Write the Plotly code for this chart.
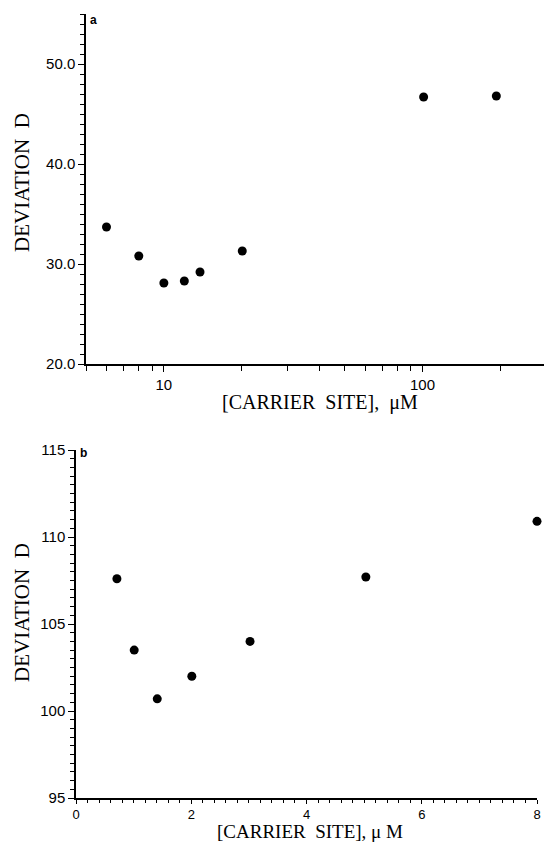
import plotly.graph_objects as go
import math

# Panel a data (log x)
carrier_a = [6.0, 8.0, 10.0, 12.0, 13.8, 20.1, 101.0, 193.0]
deviation_a = [33.7, 30.8, 28.1, 28.3, 29.2, 31.3, 46.7, 46.8]

# Panel b data (linear x)
carrier_b = [0.71, 1.01, 1.41, 2.01, 3.02, 5.03, 8.0]
deviation_b = [107.6, 103.5, 100.7, 102.0, 104.0, 107.7, 110.9]

x_title = "[CARRIER  SITE],  \u03bcM"
x_title_b = "[CARRIER  SITE], \u03bc M"
y_title = "DEVIATION  D"

W, H = 545, 842

fig = go.Figure()
fig.add_trace(go.Scatter(x=carrier_a, y=deviation_a, mode="markers", cliponaxis=False,
                         marker=dict(color="black", size=9), xaxis="x", yaxis="y",
                         showlegend=False))
fig.add_trace(go.Scatter(x=carrier_b, y=deviation_b, mode="markers", cliponaxis=False,
                         marker=dict(color="black", size=9), xaxis="x2", yaxis="y2",
                         showlegend=False))

tickfont = dict(family="Liberation Sans, Arial, sans-serif", size=15, color="black")
axis_common = dict(showline=True, linecolor="black", linewidth=1.5, ticks="outside",
                   tickcolor="black", tickwidth=1.2, showgrid=False, zeroline=False,
                   mirror=False, automargin=False)

fig.update_layout(
    width=W, height=H,
    margin=dict(l=0, r=0, t=0, b=0, pad=0),
    paper_bgcolor="white", plot_bgcolor="white",
    xaxis=dict(type="log", domain=[86 / W, 544 / W], anchor="y",
               range=[math.log10(5), math.log10(295)], tickfont=tickfont,
               tickmode="array", tickvals=[10, 100], ticktext=["10", "100"], ticklen=6,
               minor=dict(tickmode="array",
                          tickvals=[5, 6, 7, 8, 9, 20, 30, 40, 50, 60, 70, 80, 90, 200],
                          ticks="outside", ticklen=5, tickcolor="black", tickwidth=1.2),
               **axis_common),
    yaxis=dict(domain=[(H - 364) / H, (H - 14) / H], anchor="x", tickfont=tickfont,
               range=[20, 55], tick0=20, dtick=10, tickformat=".1f", ticklen=6,
               minor=dict(dtick=1, tick0=20, ticks="outside", ticklen=4,
                          tickcolor="black", tickwidth=1.2),
               **axis_common),
    xaxis2=dict(domain=[76 / W, 537 / W], anchor="y2",
                tickfont=dict(family="Liberation Sans, Arial, sans-serif", size=13, color="black"),
                range=[0, 8], tick0=0, dtick=2, ticklen=4,
                minor=dict(dtick=0.2, tick0=0, ticks="outside", ticklen=3,
                           tickcolor="black", tickwidth=1.2),
                **axis_common),
    yaxis2=dict(domain=[(H - 798) / H, (H - 450) / H], anchor="x2", tickfont=tickfont,
                range=[95, 115], tick0=95, dtick=5, ticklen=6,
                minor=dict(dtick=0.5, tick0=95, ticks="outside", ticklen=4,
                           tickcolor="black", tickwidth=1.2),
                **axis_common),
)

serif = "Liberation Serif, Times New Roman, serif"
ann = [
    dict(text=x_title, x=320 / W, y=1 - 402 / H, xref="paper", yref="paper",
         showarrow=False, font=dict(family=serif, size=20, color="black"),
         xanchor="center", yanchor="middle"),
    dict(text=x_title_b, x=310 / W, y=1 - 831 / H, xref="paper", yref="paper",
         showarrow=False, font=dict(family=serif, size=19, color="black"),
         xanchor="center", yanchor="middle"),
    dict(text=y_title, x=22 / W, y=1 - 183 / H, xref="paper", yref="paper",
         showarrow=False, font=dict(family=serif, size=21, color="black"),
         textangle=-90, xanchor="center", yanchor="middle"),
    dict(text=y_title, x=22 / W, y=1 - 613 / H, xref="paper", yref="paper",
         showarrow=False, font=dict(family=serif, size=21, color="black"),
         textangle=-90, xanchor="center", yanchor="middle"),
    dict(text="<b>a</b>", x=88 / W, y=1 - 20 / H, xref="paper", yref="paper",
         showarrow=False, font=dict(family="Liberation Sans, Arial", size=12, color="black"),
         xanchor="left", yanchor="middle"),
    dict(text="<b>b</b>", x=78 / W, y=1 - 453 / H, xref="paper", yref="paper",
         showarrow=False, font=dict(family="Liberation Sans, Arial", size=12, color="black"),
         xanchor="left", yanchor="middle"),
]
fig.update_layout(annotations=ann)

fig.write_html("out.html", config={"displayModeBar": False},
               post_script="document.body.style.margin='0px';document.body.style.overflow='hidden';")
